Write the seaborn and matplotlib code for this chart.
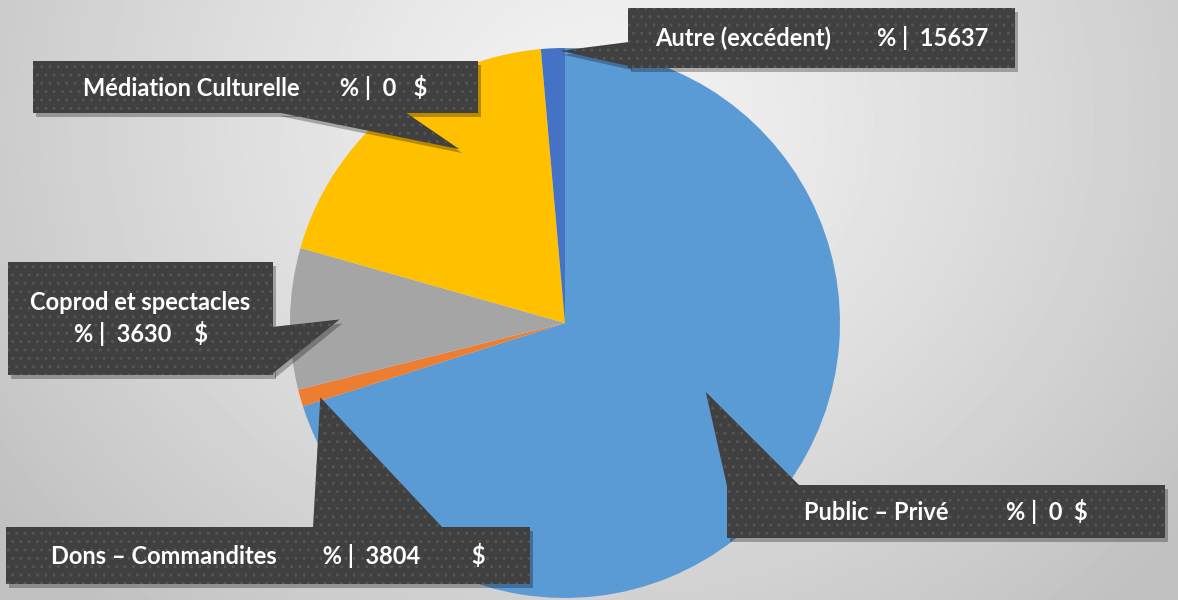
import numpy as np
import seaborn as sns
import matplotlib.pyplot as plt
from matplotlib.patches import Polygon

# Data (share of the pie, in %)
categories = ['Public – Privé', 'Dons – Commandites', 'Coprod et spectacles',
              'Médiation Culturelle', 'Autre (excédent)']
shares = [70.1, 1.0, 8.3, 19.2, 1.4]
colors = ['#5B9BD5', '#ED7D31', '#A5A5A5', '#FFC000', '#4472C4']
label_texts = [
    'Public – Privé          % |  0  $',
    'Dons – Commandites        % |  3804         $',
    'Coprod et spectacles\n% |  3630    $',
    'Médiation Culturelle       % |  0   $',
    'Autre (excédent)        % |  15637',
]

# callout layout in pixels: box (x0, y0, x1, y1), pointer base points,
# tip position inside the wedge (fraction along wedge, fraction of radius)
boxes = [(727, 485, 1165, 538), (6, 527, 530, 584), (8, 262, 273, 375),
         (33, 61, 478, 113), (628, 8, 1015, 68)]
bases = [[(727, 486), (800, 486)], [(313, 528), (443, 528)],
         [(272, 327), (272, 374)], [(276, 112), (405, 112)],
         [(629, 42), (629, 66)]]
tips = [(0.46, 0.57), (0.2, 0.93), (0.5, 0.82), (0.62, 0.74), (0.8, 0.99)]

sns.set_style('white')
plt.rcParams['font.family'] = ['Lato', 'DejaVu Sans']

W, H = 1178, 600
fig = plt.figure(figsize=(W / 100, H / 100), dpi=100)

# Background radial gradient
bg = fig.add_axes([0, 0, 1, 1])
yy, xx = np.mgrid[0:H, 0:W]
d = np.sqrt(((xx - 600) / 1.0) ** 2 + ((yy - 120) / 0.9) ** 2)
t = np.clip(d / 740, 0, 1)
grad = 0.955 - 0.2 * t ** 1.2
bg.imshow(grad, cmap='gray', vmin=0, vmax=1, extent=(0, W, H, 0), aspect='auto')
bg.set_axis_off()

# Pie
ax = fig.add_axes([290 / W, (H - 598) / H, 550 / W, 550 / H])
wedges, _ = ax.pie(shares, colors=colors, startangle=90, counterclock=False,
                   radius=1, wedgeprops=dict(linewidth=0))
ax.set_xlim(-1, 1)
ax.set_ylim(-1, 1)
ax.set_aspect('equal')
ax.set_axis_off()
fig.canvas.draw()

# Overlay for callouts, pixel coordinates (y down)
ov = fig.add_axes([0, 0, 1, 1])
ov.set_xlim(0, W)
ov.set_ylim(H, 0)
ov.set_axis_off()

for i, w in enumerate(wedges):
    pos, rf = tips[i]
    theta = np.deg2rad(w.theta2 - pos * (w.theta2 - w.theta1))
    px, py = ax.transData.transform((rf * np.cos(theta), rf * np.sin(theta)))
    tip = (px, H - py)
    x0, y0, x1, y1 = boxes[i]
    rect = [(x0, y0), (x1, y0), (x1, y1), (x0, y1)]
    tri = [bases[i][0], tip, bases[i][1]]
    for shape in (rect, tri):
        sh = [(x + 3, y + 4) for x, y in shape]
        ov.add_patch(Polygon(sh, closed=True, facecolor='black', alpha=0.28,
                             edgecolor='none', zorder=2))
    for shape in (rect, tri):
        ov.add_patch(Polygon(shape, closed=True, facecolor='#404040',
                             edgecolor='none', zorder=3))
        ov.add_patch(Polygon(shape, closed=True, facecolor='none',
                             edgecolor='#555555', linewidth=0, hatch='..',
                             zorder=4))
    ov.text((x0 + x1) / 2, (y0 + y1) / 2, label_texts[i], color='white',
            fontsize=17, fontweight='bold', ha='center', va='center',
            linespacing=1.3, zorder=5)

fig.savefig('out.png', dpi=100)
